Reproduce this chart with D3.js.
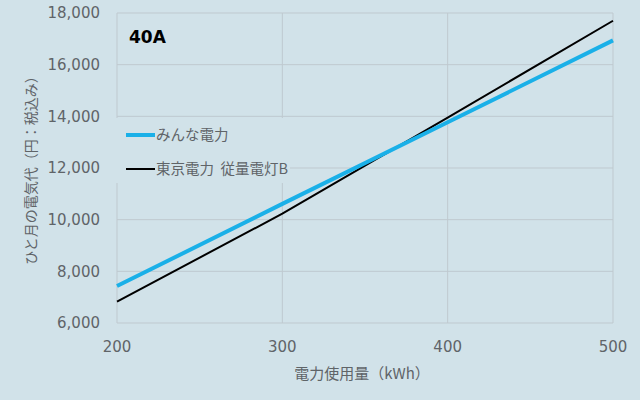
<!DOCTYPE html>
<meta charset="utf-8">
<script src="https://d3js.org/d3.v7.min.js"></script>
<style>
  body { margin: 0; background: #d1e2e9; }
  text { font-family: "DejaVu Sans", sans-serif; }
  .jp { font-family: "Noto Sans CJK JP", sans-serif; }
</style>
<body>
<div id="chart"></div>
<script>
  // data
  var usage = [200, 300, 400, 500];
  var minna = [7430, 10610, 13770, 16940];
  var tepco = [6830, 10230, 13950, 17700];
  var seriesNames = ["みんな電力", "東京電力 従量電灯B"];
  var xTicks = [200, 300, 400, 500];
  var yTicks = [6000, 8000, 10000, 12000, 14000, 16000, 18000];

  var width = 640, height = 400;
  var margin = { top: 13, right: 27, bottom: 77, left: 117 };
  var textColor = "#5f6468";
  var gridColor = "#bfc9cf";

  var svg = d3.select("#chart").append("svg")
    .attr("width", width)
    .attr("height", height);

  svg.append("rect")
    .attr("width", width)
    .attr("height", height)
    .attr("fill", "#d1e2e9");

  var x = d3.scaleLinear().domain([200, 500]).range([margin.left, width - margin.right]);
  var y = d3.scaleLinear().domain([6000, 18000]).range([height - margin.bottom, margin.top]);

  // grid
  svg.append("g").selectAll("line.h").data(yTicks).enter().append("line")
    .attr("x1", x(200)).attr("x2", x(500))
    .attr("y1", d => y(d)).attr("y2", d => y(d))
    .attr("stroke", gridColor).attr("stroke-width", 1);
  svg.append("g").selectAll("line.v").data(xTicks).enter().append("line")
    .attr("x1", d => x(d)).attr("x2", d => x(d))
    .attr("y1", y(6000)).attr("y2", y(18000))
    .attr("stroke", gridColor).attr("stroke-width", 1);

  // y axis labels
  svg.append("g").selectAll("text").data(yTicks).enter().append("text")
    .attr("x", margin.left - 17)
    .attr("y", d => y(d))
    .attr("dy", "0.36em")
    .attr("text-anchor", "end")
    .attr("font-size", 15)
    .attr("fill", textColor)
    .text(d => d3.format(",")(d));

  // x axis labels
  svg.append("g").selectAll("text").data(xTicks).enter().append("text")
    .attr("x", d => x(d))
    .attr("y", 352)
    .attr("text-anchor", "middle")
    .attr("font-size", 15)
    .attr("fill", textColor)
    .text(d => d);

  svg.append("text")
    .attr("class", "jp")
    .attr("x", 362)
    .attr("y", 379)
    .attr("text-anchor", "middle")
    .attr("font-size", 15)
    .attr("fill", textColor)
    .text("電力使用量（kWh）");

  svg.append("text")
    .attr("class", "jp")
    .attr("transform", "translate(36,167) rotate(-90)")
    .attr("text-anchor", "middle")
    .attr("font-size", 14)
    .attr("fill", textColor)
    .text("ひと月の電気代（円：税込み）");

  // lines
  var line = d3.line().x(d => x(d[0])).y(d => y(d[1]));
  svg.append("path")
    .datum(d3.zip(usage, tepco))
    .attr("d", line)
    .attr("fill", "none")
    .attr("stroke", "#000")
    .attr("stroke-width", 2);
  svg.append("path")
    .datum(d3.zip(usage, minna))
    .attr("d", line)
    .attr("fill", "none")
    .attr("stroke", "#1ab0e8")
    .attr("stroke-width", 4);

  // legend
  svg.append("rect")
    .attr("x", 114).attr("y", 118)
    .attr("width", 176).attr("height", 65)
    .attr("fill", "#d1e2e9");
  var legend = [
    { name: seriesNames[0], color: "#1ab0e8", w: 4, y: 135 },
    { name: seriesNames[1], color: "#000", w: 2, y: 169 }
  ];
  var lg = svg.append("g").selectAll("g").data(legend).enter().append("g");
  lg.append("line")
    .attr("x1", 126).attr("x2", 155)
    .attr("y1", d => d.y).attr("y2", d => d.y)
    .attr("stroke", d => d.color)
    .attr("stroke-width", d => d.w);
  lg.append("text")
    .attr("class", "jp")
    .attr("x", 156)
    .attr("y", d => d.y)
    .attr("dy", "0.36em")
    .attr("font-size", 14.5)
    .attr("fill", textColor)
    .attr("xml:space", "preserve")
    .text(d => d.name.replace(" ", "  "));

  svg.append("text")
    .attr("x", 129)
    .attr("y", 43)
    .attr("font-size", 17)
    .attr("font-weight", "bold")
    .attr("fill", "#000")
    .text("40A");
</script>
</body>
